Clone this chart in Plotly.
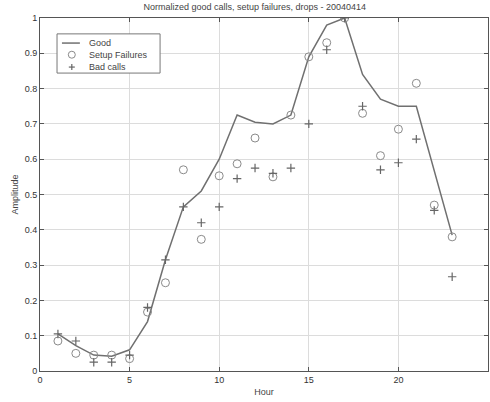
import plotly.graph_objects as go

hours = list(range(1, 24))
good = [0.105, 0.072, 0.045, 0.042, 0.06, 0.14, 0.315, 0.465, 0.51, 0.6, 0.725, 0.705,
        0.70, 0.725, 0.89, 0.98, 1.0, 0.84, 0.77, 0.75, 0.75, 0.57, 0.385]
setup_failures = [0.085, 0.05, 0.045, 0.045, 0.035, 0.167, 0.25, 0.57, 0.373, 0.553, 0.587, 0.66,
                  0.55, 0.725, 0.89, 0.93, 1.0, 0.73, 0.61, 0.685, 0.815, 0.47, 0.38]
bad_calls = [0.105, 0.085, 0.025, 0.025, 0.045, 0.18, 0.315, 0.465, 0.42, 0.465, 0.545, 0.575,
             0.56, 0.575, 0.70, 0.91, 1.0, 0.75, 0.57, 0.59, 0.657, 0.455, 0.267]
x_ticks = [0, 5, 10, 15, 20, 25]
y_ticks = [0, 0.1, 0.2, 0.3, 0.4, 0.5, 0.6, 0.7, 0.8, 0.9, 1]
legend_names = ["Good", "Setup Failures", "Bad calls"]

LINE_C = "#707070"
CIRC_C = "#8a8a8a"
PLUS_C = "#666666"
FONT = "Liberation Sans"

fig = go.Figure()
fig.add_trace(go.Scatter(x=hours, y=good, mode="lines", name=legend_names[0],
                         line=dict(color=LINE_C, width=1.5)))
fig.add_trace(go.Scatter(x=hours, y=setup_failures, mode="markers", name=legend_names[1],
                         marker=dict(symbol="circle-open", size=8, color=CIRC_C,
                                     line=dict(width=1, color=CIRC_C))))
fig.add_trace(go.Scatter(x=hours, y=bad_calls, mode="markers", name=legend_names[2],
                         marker=dict(symbol="cross-thin-open", size=6, color=PLUS_C,
                                     line=dict(width=1.2, color=PLUS_C))))

axis_common = dict(showgrid=True, gridcolor="#dcdcdc", gridwidth=1, showline=True,
                   linecolor="#555555", linewidth=1, mirror="ticks", ticks="inside",
                   ticklen=4, tickcolor="#555555", zeroline=False,
                   tickfont=dict(size=9, color="#333333", family=FONT))

# Manual compact legend (MATLAB style)
box = dict(x0=0.038, x1=0.268, y0=0.844, y1=0.955)
rows = [0.929, 0.896, 0.861]
shapes = [dict(type="rect", xref="paper", yref="paper", **box,
               line=dict(color="#777777", width=1), fillcolor="white", layer="above")]
shapes.append(dict(type="line", xref="paper", yref="paper", x0=0.049, x1=0.089,
                   y0=rows[0], y1=rows[0], line=dict(color=LINE_C, width=1.5), layer="above"))
shapes.append(dict(type="circle", xref="paper", yref="paper", xsizemode="pixel", ysizemode="pixel",
                   xanchor=0.071, yanchor=rows[1], x0=-3.5, x1=3.5, y0=-3.5, y1=3.5,
                   line=dict(color=CIRC_C, width=1), layer="above"))
shapes.append(dict(type="line", xref="paper", yref="paper", xsizemode="pixel", ysizemode="pixel",
                   xanchor=0.071, yanchor=rows[2], x0=-3, x1=3, y0=0, y1=0,
                   line=dict(color=PLUS_C, width=1.2), layer="above"))
shapes.append(dict(type="line", xref="paper", yref="paper", xsizemode="pixel", ysizemode="pixel",
                   xanchor=0.071, yanchor=rows[2], x0=0, x1=0, y0=-3, y1=3,
                   line=dict(color=PLUS_C, width=1.2), layer="above"))
annotations = [dict(text=n, xref="paper", yref="paper", x=0.105, y=r, xanchor="left",
                    yanchor="middle", showarrow=False,
                    font=dict(size=9, color="#444444", family=FONT))
               for n, r in zip(legend_names, rows)]

fig.update_layout(
    width=490, height=402,
    margin=dict(l=40, r=2, t=18, b=31),
    paper_bgcolor="white", plot_bgcolor="white",
    title=dict(text="Normalized good calls, setup failures, drops - 20040414",
               x=0.52, xanchor="center", y=0.99, yanchor="top",
               font=dict(size=9, color="#444444", family=FONT)),
    xaxis=dict(range=[0, 25], tickvals=x_ticks, **axis_common,
               title=dict(text="Hour", font=dict(size=9, color="#444444", family=FONT),
                          standoff=4)),
    yaxis=dict(range=[0, 1], tickvals=y_ticks, **axis_common,
               title=dict(text="Amplitude", font=dict(size=9, color="#444444", family=FONT),
                          standoff=4)),
    showlegend=False,
    shapes=shapes,
    annotations=annotations,
)

fig.write_html("out.html", config={"displayModeBar": False},
               post_script="document.body.style.margin='0';")
